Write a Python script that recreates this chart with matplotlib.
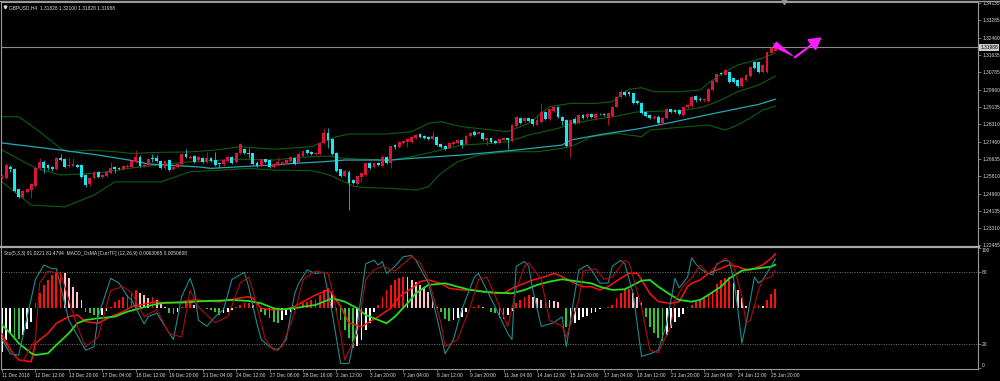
import numpy as np
import matplotlib
matplotlib.use('Agg')
from matplotlib import pyplot as plt
from matplotlib import transforms
from matplotlib.lines import Line2D

plt.rcParams['font.family'] = ['Liberation Sans', 'DejaVu Sans']

# GBPUSD H4 candles, 11 Dec 2018 .. 25 Jan 2019
opens = [1.2570, 1.2573, 1.2623, 1.2615, 1.2519, 1.2482, 1.2503, 1.2514, 1.2535, 1.2618,
         1.2650, 1.2634, 1.2623, 1.2615, 1.2669, 1.2663, 1.2629, 1.2631, 1.2634, 1.2634,
         1.2586, 1.2542, 1.2573, 1.2599, 1.2578, 1.2581, 1.2597, 1.2626, 1.2621, 1.2615,
         1.2625, 1.2626, 1.2650, 1.2674, 1.2629, 1.2634, 1.2666, 1.2666, 1.2653, 1.2618,
         1.2658, 1.2614, 1.2623, 1.2638, 1.2686, 1.2666, 1.2679, 1.2658, 1.2666, 1.2647,
         1.2669, 1.2658, 1.2642, 1.2639, 1.2653, 1.2671, 1.2650, 1.2690, 1.2710, 1.2693,
         1.2690, 1.2645, 1.2631, 1.2662, 1.2658, 1.2626, 1.2634, 1.2639, 1.2642, 1.2655,
         1.2666, 1.2642, 1.2677, 1.2706, 1.2698, 1.2687, 1.2686, 1.2738, 1.2789, 1.2758,
         1.2693, 1.2614, 1.2581, 1.2602, 1.2562, 1.2543, 1.2578, 1.2586, 1.2645, 1.2626,
         1.2645, 1.2631, 1.2674, 1.2642, 1.2730, 1.2719, 1.2741, 1.2746, 1.2746, 1.2762,
         1.2783, 1.2773, 1.2770, 1.2758, 1.2770, 1.2735, 1.2725, 1.2714, 1.2735, 1.2741,
         1.2754, 1.2735, 1.2773, 1.2794, 1.2783, 1.2789, 1.2754, 1.2762, 1.2751, 1.2741,
         1.2754, 1.2762, 1.2751, 1.2821, 1.2858, 1.2847, 1.2858, 1.2854, 1.2826, 1.2842,
         1.2890, 1.2854, 1.2895, 1.2914, 1.2866, 1.2850, 1.2725, 1.2855, 1.2836, 1.2874,
         1.2865, 1.2881, 1.2862, 1.2881, 1.2879, 1.2858, 1.2869, 1.2914, 1.2962, 1.2986,
         1.2985, 1.2978, 1.2941, 1.2933, 1.2890, 1.2874, 1.2858, 1.2867, 1.2838, 1.2858,
         1.2901, 1.2896, 1.2896, 1.2874, 1.2911, 1.2917, 1.2965, 1.2952, 1.2946, 1.2943,
         1.2994, 1.3034, 1.3077, 1.3066, 1.3082, 1.3050, 1.3042, 1.3013, 1.3042, 1.3061,
         1.3128, 1.3128, 1.3082, 1.3082, 1.3173, 1.31828]
highs = [1.2591, 1.2644, 1.2634, 1.2620, 1.2524, 1.2514, 1.2524, 1.2548, 1.2629, 1.2669,
         1.2658, 1.2639, 1.2629, 1.2671, 1.2686, 1.2668, 1.2674, 1.2666, 1.2639, 1.2639,
         1.2591, 1.2577, 1.2605, 1.2605, 1.2591, 1.2610, 1.2650, 1.2629, 1.2625, 1.2634,
         1.2637, 1.2658, 1.2706, 1.2682, 1.2639, 1.2668, 1.2686, 1.2682, 1.2658, 1.2658,
         1.2663, 1.2629, 1.2644, 1.2692, 1.2710, 1.2682, 1.2682, 1.2677, 1.2673, 1.2698,
         1.2673, 1.2697, 1.2646, 1.2663, 1.2677, 1.2677, 1.2697, 1.2740, 1.2716, 1.2716,
         1.2694, 1.2653, 1.2665, 1.2665, 1.2663, 1.2644, 1.2674, 1.2653, 1.2663, 1.2675,
         1.2670, 1.2698, 1.2706, 1.2711, 1.2701, 1.2697, 1.2742, 1.2810, 1.2810, 1.2761,
         1.2697, 1.2617, 1.2610, 1.2610, 1.2567, 1.2586, 1.2598, 1.2649, 1.2649, 1.2649,
         1.2649, 1.2680, 1.2677, 1.2730, 1.2735, 1.2749, 1.2754, 1.2761, 1.2773, 1.2783,
         1.2788, 1.2778, 1.2773, 1.2799, 1.2773, 1.2738, 1.2728, 1.2742, 1.2749, 1.2759,
         1.2759, 1.2778, 1.2793, 1.2802, 1.2798, 1.2793, 1.2766, 1.2764, 1.2754, 1.2761,
         1.2766, 1.2766, 1.2831, 1.2867, 1.2862, 1.2862, 1.2862, 1.2857, 1.2879, 1.2930,
         1.2893, 1.2905, 1.2917, 1.2917, 1.2869, 1.2855, 1.2857, 1.2865, 1.2879, 1.2881,
         1.2886, 1.2886, 1.2884, 1.2886, 1.2884, 1.2886, 1.2915, 1.2965, 1.2992, 1.2992,
         1.2989, 1.2982, 1.2946, 1.2937, 1.2893, 1.2877, 1.2872, 1.2872, 1.2867, 1.2910,
         1.2905, 1.2901, 1.2901, 1.2917, 1.2927, 1.2968, 1.2970, 1.2961, 1.2956, 1.3004,
         1.3042, 1.3076, 1.3081, 1.3095, 1.3085, 1.3054, 1.3047, 1.3052, 1.3071, 1.3109,
         1.3133, 1.3133, 1.3117, 1.3179, 1.3203, 1.32100]
lows = [1.2567, 1.2569, 1.2601, 1.2505, 1.2476, 1.2476, 1.2500, 1.2477, 1.2529, 1.2615,
        1.2594, 1.2610, 1.2605, 1.2610, 1.2653, 1.2620, 1.2625, 1.2627, 1.2620, 1.2572,
        1.2530, 1.2533, 1.2567, 1.2572, 1.2572, 1.2577, 1.2593, 1.2594, 1.2608, 1.2610,
        1.2622, 1.2622, 1.2646, 1.2625, 1.2627, 1.2629, 1.2650, 1.2649, 1.2615, 1.2613,
        1.2605, 1.2608, 1.2620, 1.2634, 1.2668, 1.2663, 1.2644, 1.2649, 1.2644, 1.2642,
        1.2649, 1.2629, 1.2620, 1.2629, 1.2651, 1.2641, 1.2646, 1.2687, 1.2687, 1.2666,
        1.2634, 1.2627, 1.2627, 1.2646, 1.2622, 1.2622, 1.2632, 1.2634, 1.2639, 1.2651,
        1.2634, 1.2639, 1.2673, 1.2687, 1.2682, 1.2682, 1.2682, 1.2735, 1.2717, 1.2682,
        1.2603, 1.2577, 1.2577, 1.2418, 1.2541, 1.2538, 1.2554, 1.2581, 1.2615, 1.2622,
        1.2629, 1.2627, 1.2639, 1.2618, 1.2713, 1.2716, 1.2737, 1.2722, 1.2742, 1.2759,
        1.2764, 1.2761, 1.2754, 1.2754, 1.2725, 1.2716, 1.2706, 1.2711, 1.2732, 1.2737,
        1.2714, 1.2732, 1.2771, 1.2773, 1.2781, 1.2754, 1.2730, 1.2742, 1.2737, 1.2737,
        1.2752, 1.2710, 1.2747, 1.2819, 1.2831, 1.2843, 1.2843, 1.2821, 1.2824, 1.2838,
        1.2850, 1.2850, 1.2891, 1.2860, 1.2826, 1.2721, 1.2671, 1.2831, 1.2831, 1.2855,
        1.2857, 1.2860, 1.2850, 1.2872, 1.2869, 1.2826, 1.2867, 1.2911, 1.2958, 1.2965,
        1.2965, 1.2929, 1.2927, 1.2881, 1.2865, 1.2853, 1.2855, 1.2831, 1.2826, 1.2855,
        1.2884, 1.2884, 1.2874, 1.2869, 1.2908, 1.2915, 1.2939, 1.2941, 1.2939, 1.2939,
        1.2989, 1.3030, 1.3066, 1.3064, 1.3030, 1.3030, 1.3009, 1.3009, 1.3037, 1.3059,
        1.3095, 1.3078, 1.3078, 1.3078, 1.3170, 1.31828]
closes = [1.2583, 1.2634, 1.2614, 1.2509, 1.2482, 1.2509, 1.2518, 1.2542, 1.2621, 1.2650,
          1.2621, 1.2618, 1.2615, 1.2666, 1.2658, 1.2626, 1.2634, 1.2638, 1.2626, 1.2578,
          1.2538, 1.2570, 1.2599, 1.2578, 1.2586, 1.2602, 1.2621, 1.2615, 1.2615, 1.2629,
          1.2631, 1.2653, 1.2674, 1.2631, 1.2634, 1.2663, 1.2662, 1.2653, 1.2618, 1.2653,
          1.2610, 1.2623, 1.2639, 1.2686, 1.2671, 1.2674, 1.2650, 1.2674, 1.2647, 1.2666,
          1.2653, 1.2634, 1.2638, 1.2658, 1.2674, 1.2645, 1.2690, 1.2734, 1.2690, 1.2687,
          1.2638, 1.2631, 1.2662, 1.2650, 1.2626, 1.2639, 1.2650, 1.2650, 1.2658, 1.2671,
          1.2639, 1.2686, 1.2701, 1.2690, 1.2687, 1.2693, 1.2738, 1.2789, 1.2754, 1.2687,
          1.2607, 1.2581, 1.2607, 1.2546, 1.2546, 1.2581, 1.2594, 1.2645, 1.2618, 1.2645,
          1.2634, 1.2674, 1.2642, 1.2725, 1.2719, 1.2746, 1.2751, 1.2758, 1.2770, 1.2778,
          1.2767, 1.2765, 1.2758, 1.2773, 1.2730, 1.2719, 1.2710, 1.2738, 1.2746, 1.2754,
          1.2730, 1.2773, 1.2789, 1.2778, 1.2794, 1.2758, 1.2762, 1.2746, 1.2741, 1.2758,
          1.2762, 1.2754, 1.2826, 1.2863, 1.2834, 1.2858, 1.2847, 1.2831, 1.2850, 1.2890,
          1.2854, 1.2902, 1.2914, 1.2863, 1.2847, 1.2725, 1.2850, 1.2836, 1.2874, 1.2860,
          1.2881, 1.2865, 1.2879, 1.2877, 1.2874, 1.2882, 1.2911, 1.2962, 1.2986, 1.2970,
          1.2975, 1.2933, 1.2930, 1.2885, 1.2869, 1.2858, 1.2867, 1.2838, 1.2862, 1.2905,
          1.2889, 1.2891, 1.2879, 1.2914, 1.2922, 1.2963, 1.2944, 1.2946, 1.2951, 1.2999,
          1.3037, 1.3071, 1.3071, 1.3090, 1.3034, 1.3034, 1.3013, 1.3052, 1.3066, 1.3106,
          1.3098, 1.3082, 1.3112, 1.3176, 1.3194, 1.31988]

# Bollinger bands and the slow moving average, read at sample bars
bb_up_bar = [0, 4, 9, 14, 16, 21, 27, 31, 38, 45, 51, 57, 65, 74, 77, 80, 83, 92, 98, 102,
             105, 110, 121, 126, 131, 136, 142, 146, 150, 153, 156, 162, 167, 170, 173, 176,
             179, 182, 185]
bb_up = [1.2866, 1.2866, 1.2794, 1.2714, 1.2698, 1.2706, 1.2698, 1.2690, 1.2695, 1.2697,
         1.2706, 1.2722, 1.2710, 1.2722, 1.2746, 1.2770, 1.2783, 1.2783, 1.2794, 1.2834,
         1.2842, 1.2818, 1.2794, 1.2834, 1.2914, 1.2930, 1.2930, 1.2938, 1.2998, 1.3005,
         1.2986, 1.2986, 1.2994, 1.3042, 1.3082, 1.3114, 1.3130, 1.3148, 1.3172]
bb_mid_bar = [0, 8, 14, 23, 31, 45, 57, 65, 71, 78, 82, 86, 93, 98, 105, 110, 117, 121, 126,
              133, 136, 141, 146, 152, 158, 162, 168, 172, 176, 181, 184, 185]
bb_mid = [1.2706, 1.2620, 1.2586, 1.2596, 1.2620, 1.2650, 1.2662, 1.2658, 1.2671, 1.2677,
          1.2666, 1.2662, 1.2658, 1.2674, 1.2706, 1.2730, 1.2738, 1.2746, 1.2778, 1.2810,
          1.2831, 1.2850, 1.2865, 1.2889, 1.2893, 1.2893, 1.2914, 1.2946, 1.2986, 1.3018,
          1.3050, 1.3061]
bb_low_bar = [0, 7, 15, 22, 27, 38, 45, 53, 59, 65, 74, 77, 79, 81, 84, 86, 93, 99, 102, 105,
              109, 114, 121, 128, 134, 137, 141, 147, 150, 153, 155, 162, 169, 173, 176, 179,
              182, 185]
bb_low = [1.2553, 1.2442, 1.2433, 1.2490, 1.2553, 1.2553, 1.2602, 1.2610, 1.2618, 1.2610,
          1.2607, 1.2594, 1.2581, 1.2562, 1.2533, 1.2527, 1.2522, 1.2514, 1.2530, 1.2594,
          1.2650, 1.2682, 1.2698, 1.2698, 1.2714, 1.2730, 1.2770, 1.2786, 1.2778, 1.2770,
          1.2802, 1.2815, 1.2826, 1.2802, 1.2826, 1.2860, 1.2898, 1.2917]
ma_bar = [0, 14, 23, 31, 35, 47, 50, 57, 65, 70, 77, 82, 93, 98, 110, 123, 134, 136, 144,
          152, 160, 168, 176, 181, 185]
ma = [1.2740, 1.2706, 1.2682, 1.2656, 1.2639, 1.2625, 1.2618, 1.2626, 1.2634, 1.2642,
      1.2650, 1.2658, 1.2658, 1.2666, 1.2682, 1.2706, 1.2730, 1.2754, 1.2783, 1.2807,
      1.2838, 1.2872, 1.2905, 1.2925, 1.2950]

# Stochastic (5,3,3): main and signal, read at sample bars
sto_main_bar = [0, 2, 4, 8, 10, 12, 13, 16, 20, 22, 23, 26, 28, 30, 31, 34, 35, 37, 39, 41,
                43, 45, 46, 47, 49, 51, 53, 55, 58, 59, 61, 62, 64, 66, 68, 70, 71, 73, 75, 77,
                79, 81, 83, 85, 87, 89, 90, 91, 92, 94, 96, 98, 99, 102, 104, 106, 108, 110,
                113, 114, 116, 118, 121, 122, 123, 125, 126, 127, 129, 132, 134, 135, 137, 138,
                140, 141, 143, 145, 146, 148, 149, 151, 153, 155, 157, 159, 161, 162, 164, 165,
                166, 167, 169, 170, 171, 173, 174, 175, 176, 177, 178, 180, 181, 182, 184, 185]
sto_main = [24, 12, 11, 74, 86, 83, 83, 40, 15, 18, 43, 75, 71, 60, 57, 37, 43, 46, 35, 24,
            60, 75, 65, 40, 35, 43, 49, 74, 80, 68, 37, 24, 18, 15, 24, 62, 71, 82, 79, 80,
            46, 4, 4, 37, 87, 90, 86, 89, 79, 85, 93, 94, 90, 71, 43, 12, 24, 49, 76, 79,
            65, 51, 29, 24, 85, 89, 85, 65, 35, 38, 43, 18, 62, 82, 86, 82, 71, 71, 85, 90,
            87, 62, 10, 12, 15, 37, 75, 67, 76, 92, 87, 83, 79, 78, 87, 90, 89, 75, 50, 21,
            37, 76, 71, 74, 85, 91.0221]
sto_sig_bar = [0, 3, 5, 8, 9, 11, 14, 16, 18, 20, 23, 26, 29, 31, 34, 37, 40, 43, 45, 47,
               51, 54, 57, 59, 60, 63, 65, 67, 70, 72, 75, 78, 79, 81, 82, 85, 87, 89, 91, 94,
               98, 100, 102, 105, 106, 109, 112, 114, 116, 118, 121, 123, 125, 126, 129, 131,
               134, 135, 138, 139, 142, 144, 146, 149, 150, 153, 155, 157, 160, 161, 163, 165,
               167, 169, 171, 173, 175, 177, 178, 179, 181, 182, 184, 185]
sto_sig = [29, 10, 6, 24, 71, 81, 79, 57, 35, 18, 26, 65, 68, 63, 43, 49, 29, 26, 65, 51,
           38, 43, 71, 76, 65, 24, 15, 18, 46, 74, 81, 79, 65, 29, 7, 29, 74, 82, 85, 81,
           93, 88, 74, 38, 18, 24, 51, 74, 76, 60, 35, 65, 85, 88, 74, 40, 35, 26, 57, 81,
           83, 74, 76, 90, 88, 51, 15, 13, 35, 57, 69, 75, 86, 79, 86, 92, 86, 60, 38, 40,
           65, 74, 76, 81.4794]

# MACD_OsMA (12,26,9): macd line, signal line (sampled) and histogram (every bar)
macd_bar = [0, 2, 4, 7, 8, 11, 13, 16, 18, 20, 23, 26, 29, 31, 33, 35, 37, 39, 43, 46,
            49, 52, 55, 59, 60, 62, 65, 67, 70, 72, 75, 78, 79, 81, 83, 86, 88, 90, 93, 95,
            98, 100, 102, 105, 107, 110, 113, 115, 118, 120, 122, 125, 127, 130, 132, 134,
            137, 139, 141, 143, 145, 148, 150, 152, 154, 155, 157, 160, 162, 164, 165, 167,
            169, 172, 174, 176, 177, 179, 180, 182, 184, 185]
macd = [-0.00329, -0.00484, -0.0060, -0.0062, -0.00406, -0.0029, -0.00174, -0.00097,
        -0.00077, -0.00155, -0.00174, -0.00097, -0.00039, 0.0002, 0.00039, 0.00058, 0.00077,
        0.00058, 0.00077, 0.00097, 0.00085, 0.00077, 0.00104, 0.00135, 0.00116, 0.0,
        -0.00019, -0.00019, 0.00019, 0.00077, 0.00155, 0.00213, 0.0017, 0.0002, -0.0017,
        -0.00213, -0.00155, -0.00097, 0.0, 0.00135, 0.00232, 0.0031, 0.00329, 0.0029,
        0.00232, 0.00213, 0.00213, 0.00194, 0.00174, 0.00174, 0.00232, 0.0029, 0.00329,
        0.00368, 0.00406, 0.00368, 0.0029, 0.00251, 0.00251, 0.00213, 0.00251, 0.00348,
        0.00406, 0.00406, 0.00251, 0.0017, 0.00077, 0.00058, 0.00077, 0.00252, 0.0029,
        0.00329, 0.00406, 0.00464, 0.00503, 0.00484, 0.00464, 0.00445, 0.00464, 0.00503,
        0.0058, 0.0063065]
signal_bar = [0, 2, 4, 7, 8, 11, 13, 16, 18, 20, 23, 27, 30, 33, 36, 39, 43, 46, 49, 52,
              55, 59, 62, 65, 67, 70, 72, 75, 78, 79, 82, 85, 87, 90, 92, 94, 97, 99, 102, 106,
              109, 112, 115, 118, 122, 125, 128, 131, 134, 138, 141, 143, 146, 149, 151, 153,
              155, 157, 160, 162, 165, 167, 169, 172, 174, 176, 177, 179, 181, 184, 185]
signal = [-0.00194, -0.0029, -0.00406, -0.00522, -0.00542, -0.00522, -0.00426, -0.0029,
          -0.00174, -0.00135, -0.00116, -0.00097, -0.00039, 0.0, 0.00039, 0.00066, 0.00066,
          0.00077, 0.00085, 0.00089, 0.00097, 0.00085, 0.00058, 0.0, -0.00012, 0.0, 0.00019,
          0.00039, 0.00097, 0.00116, 0.00077, 0.0, -0.00077, -0.00135, -0.00174, -0.00097,
          0.00058, 0.00174, 0.00271, 0.0029, 0.00251, 0.00213, 0.00194, 0.00182, 0.00174,
          0.00213, 0.00271, 0.0031, 0.00337, 0.0031, 0.0029, 0.00251, 0.00213, 0.00221,
          0.00271, 0.00321, 0.00329, 0.00251, 0.00155, 0.00097, 0.00077, 0.00097, 0.00155,
          0.00251, 0.00348, 0.00406, 0.00437, 0.00453, 0.00464, 0.00484, 0.0050608]
osma = [-0.00503, -0.00368, -0.00290, -0.00329, -0.00360, -0.00310, -0.00244, -0.00155, 0.00058, 0.00174,
        0.00271, 0.00329, 0.00387, 0.00418, 0.00422, 0.00406, 0.00348, 0.00252, 0.00194, 0.00097,
        -0.00039, -0.00058, -0.00077, -0.00097, -0.00077, -0.00027, 0.00019, 0.00077, 0.00097, 0.00135,
        0.00155, 0.00194, 0.00213, 0.00174, 0.00155, 0.00116, 0.00135, 0.00097, 0.00058, 0.00019,
        -0.00058, -0.00066, -0.00039, 0.00019, 0.00058, 0.00066, 0.00039, 0.00019, 0.00004, -0.00008,
        -0.00019, -0.00039, -0.00077, -0.00058, -0.00039, -0.00019, 0.00019, 0.00039, 0.00058, 0.00066,
        0.00039, 0.00008, -0.00039, -0.00077, -0.00116, -0.00155, -0.00166, -0.00135, -0.00077, -0.00039,
        -0.00019, 0.00019, 0.00058, 0.00077, 0.00097, 0.00104, 0.00155, 0.00213, 0.00232, 0.00194,
        -0.00039, -0.00135, -0.00252, -0.00348, -0.00464, -0.00437, -0.00368, -0.00252, -0.00174, -0.00039,
        0.00039, 0.00135, 0.00213, 0.00271, 0.00329, 0.00348, 0.00368, 0.00360, 0.00329, 0.00310,
        0.00271, 0.00252, 0.00194, 0.00097, 0.00019, -0.00039, -0.00128, -0.00143, -0.00135, -0.00116,
        -0.00097, -0.00039, 0.00008, 0.00019, 0.00039, 0.00019, 0.00004, -0.00039, -0.00058, -0.00116,
        -0.00124, -0.00077, -0.00027, 0.00058, 0.00097, 0.00135, 0.00155, 0.00135, 0.00116, 0.00097,
        0.00116, 0.00097, 0.00089, 0.00077, 0.00004, -0.00213, -0.00194, -0.00174, -0.00135, -0.00104,
        -0.00089, -0.00058, -0.00039, -0.00004, 0.00008, 0.00019, 0.00039, 0.00116, 0.00174, 0.00213,
        0.00221, 0.00174, 0.00135, 0.00058, -0.00097, -0.00213, -0.00290, -0.00348, -0.00375, -0.00310,
        -0.00232, -0.00155, -0.00104, -0.00066, 0.00019, 0.00039, 0.00077, 0.00097, 0.00128, 0.00155,
        0.00194, 0.00283, 0.00329, 0.00348, 0.00360, 0.00298, 0.00213, 0.00116, 0.00027, 0.00008,
        0.00027, 0.00039, 0.00023, 0.00097, 0.00166, 0.00221]

# user drawn arrow (bar, price)
arrow_bar = [184.5, 189.7, 196.1]
arrow_price = [1.32184, 1.31512, 1.32472]

x_labels = ['11 Dec 2018', '12 Dec 12:00', '13 Dec 20:00', '17 Dec 04:00', '18 Dec 12:00',
            '19 Dec 20:00', '21 Dec 04:00', '24 Dec 12:00', '27 Dec 08:00', '28 Dec 16:00',
            '2 Jan 12:00', '3 Jan 20:00', '7 Jan 04:00', '8 Jan 12:00', '9 Jan 20:00',
            '11 Jan 04:00', '14 Jan 12:00', '15 Jan 20:00', '17 Jan 04:00', '18 Jan 12:00',
            '21 Jan 20:00', '23 Jan 04:00', '24 Jan 12:00', '25 Jan 20:00']
price_ticks = [1.34135, 1.33285, 1.32460, 1.31635, 1.30785, 1.29960, 1.29135, 1.28310,
               1.27460, 1.26635, 1.25810, 1.24960, 1.24135, 1.23310, 1.22485]
sto_levels = [80, 20]

# ---------------------------------------------------------------
BG = 'black'
FG = '#d8d8d8'
FRAME = '#9a9a9a'
BULL, BEAR = '#dc143c', '#19e6ee'
BULL_WICK, BEAR_WICK = '#b0102e', '#1aa6a8'
FS = 3.5

W, H = 1000.0, 381.0


def rect(x0, y0, x1, y1):
    return [x0 / W, 1 - y1 / H, (x1 - x0) / W, (y1 - y0) / H]


fig = plt.figure(figsize=(10, 3.81), dpi=100, facecolor=BG)
ax = fig.add_axes(rect(1, 2, 978, 246), facecolor=BG)
ax2 = fig.add_axes(rect(1, 248, 978, 369.3), facecolor=BG)

xlim = (-0.24, 233.49)
ax.set_xlim(*xlim)
ax2.set_xlim(*xlim)
ax.set_ylim(1.22454, 1.34166)
ax2.set_ylim(-0.83, 100.25)

o = np.array(opens)
h = np.array(highs)
l = np.array(lows)
c = np.array(closes)
idx = np.arange(len(c))
up = c >= o

# bollinger bands + MA
for bx, by in [(bb_up_bar, bb_up), (bb_mid_bar, bb_mid), (bb_low_bar, bb_low)]:
    ax.plot(bx, by, color='#0b5e12', lw=0.8, zorder=1)
ax.plot(ma_bar, ma, color='#22aab2', lw=0.9, zorder=1)

# candles
ax.vlines(idx[up], l[up], h[up], color=BULL_WICK, lw=0.7, zorder=2)
ax.vlines(idx[~up], l[~up], h[~up], color=BEAR_WICK, lw=0.7, zorder=2)
body = np.maximum(np.abs(c - o), 0.00025)
ax.bar(idx[up], body[up], bottom=np.minimum(o, c)[up], width=0.68, color=BULL,
       linewidth=0, zorder=3)
ax.bar(idx[~up], body[~up], bottom=np.minimum(o, c)[~up], width=0.68, color=BEAR,
       linewidth=0, zorder=3)

# bid line + arrow
ax.axhline(closes[-1], color='#8a8a8a', lw=0.8, zorder=1)
ax.annotate('', xy=(arrow_bar[1], arrow_price[1]), xytext=(arrow_bar[0], arrow_price[0]),
            arrowprops=dict(arrowstyle='-|>,head_length=1.5,head_width=0.2', color='#ff1cff',
                            lw=0.6, shrinkA=0, shrinkB=0), zorder=5)
ax.annotate('', xy=(arrow_bar[2], arrow_price[2]), xytext=(arrow_bar[1], arrow_price[1]),
            arrowprops=dict(arrowstyle='-|>,head_length=0.7,head_width=0.4', color='#ff1cff',
                            lw=1.6, shrinkA=0, shrinkB=0), zorder=5)

# price axis on the right
ax.yaxis.tick_right()
ax.set_yticks(price_ticks)
ax.set_yticklabels([f'{p:.5f}' for p in price_ticks])
ax.tick_params(axis='y', colors=FG, labelsize=FS, length=2, width=0.5, pad=1.2)
ax.tick_params(axis='y', color=FRAME)
ax.set_xticks([])
trans = transforms.blended_transform_factory(ax.transAxes, ax.transData)
ax.text(1.0025, closes[-1], f'{closes[-1]:.5f}', transform=trans, fontsize=FS, color='black',
        va='center', ha='left',
        bbox=dict(facecolor='#c9c9c9', edgecolor='none', boxstyle='square,pad=0.25'))

for s in ['left', 'top', 'right']:
    ax.spines[s].set_color(FRAME)
    ax.spines[s].set_linewidth(0.8)
ax.spines['bottom'].set_visible(False)

ax.text(0.008, 0.985, f'GBPUSD,H4  {opens[-1]:.5f} {highs[-1]:.5f} {lows[-1]:.5f} '
        f'{closes[-1]:.5f}', transform=ax.transAxes, fontsize=FS, color=FG,
        va='top', ha='left')
ax.plot([0.0042], [0.9805], marker='v', ms=2.0, color=FG, transform=ax.transAxes,
        clip_on=False)
ax.plot([len(c) + 1], [1.0], marker='v', ms=3.2, color='#8e8e8e',
        transform=transforms.blended_transform_factory(ax.transData, ax.transAxes),
        clip_on=False, zorder=6)

# ---- lower pane: stochastic + OsMA ----
axm = ax2.twinx()
k = 0.00013932
axm.set_ylim((-0.83 - 50) * k, (100.25 - 50) * k)
axm.set_xlim(*xlim)
hist = np.array(osma)
prev = np.r_[hist[0], hist[:-1]]
rising = hist >= prev
cols = np.where(hist >= 0, np.where(rising, '#ff1010', '#ffc0cb'),
                np.where(rising, '#ffffff', '#34c734'))
axm.bar(idx, hist, width=0.42, color=cols, linewidth=0, zorder=2)
axm.plot(macd_bar, macd, color='#ff1010', lw=1.1, zorder=4)
axm.plot(signal_bar, signal, color='#22e01c', lw=1.3, zorder=5)
axm.set_yticks([])
for s in axm.spines.values():
    s.set_visible(False)

ax2.plot(sto_main_bar, sto_main, color='#1f8a8c', lw=0.8, zorder=3)
ax2.plot(sto_sig_bar, sto_sig, color='#b00c0c', lw=0.8, zorder=3)
for lv in sto_levels:
    ax2.axhline(lv, color='#9a9a9a', lw=0.5, ls=(0, (1.5, 2)), zorder=1)

ax2.set_zorder(axm.get_zorder() + 1)
ax2.patch.set_visible(False)
axm.patch.set_facecolor(BG)

ax2.yaxis.tick_right()
ax2.set_yticks([100, 80, 20, 0])
ax2.set_yticklabels([])
ax2.tick_params(axis='y', color=FRAME, length=2, width=0.5)
trans2 = transforms.blended_transform_factory(ax2.transAxes, ax2.transData)
for v, va in [(100, 'top'), (80, 'center'), (20, 'center'), (0, 'bottom')]:
    ax2.text(1.004, v, str(v), transform=trans2, fontsize=FS, color=FG, va=va, ha='left')

ax2.set_xticks(range(0, 8 * len(x_labels), 8))
ax2.set_xticklabels(x_labels, ha='left')
ax2.tick_params(axis='x', colors=FG, labelsize=FS, length=2, width=0.5, pad=1.0)
ax2.tick_params(axis='x', color=FRAME)
for s in ['left', 'bottom', 'right']:
    ax2.spines[s].set_color(FRAME)
    ax2.spines[s].set_linewidth(0.8)
ax2.spines['top'].set_visible(False)

ax2.text(0.003, 0.975, 'Sto(5,3,3) 91.0221 81.4794  MACD_OsMA [CurrTF] (12,26,9) '
         '0.0063065 0.0050608', transform=ax2.transAxes, fontsize=FS, color=FG,
         va='top', ha='left')

# pane separator and top border
fig.add_artist(Line2D([0, 1], [1 - 1.2 / H] * 2, color=FRAME, lw=1.0))
fig.add_artist(Line2D([0, 0.979], [1 - 247 / H] * 2, color='#a8a8a8', lw=1.6))

fig.savefig('out.png', dpi=100, facecolor=BG)
